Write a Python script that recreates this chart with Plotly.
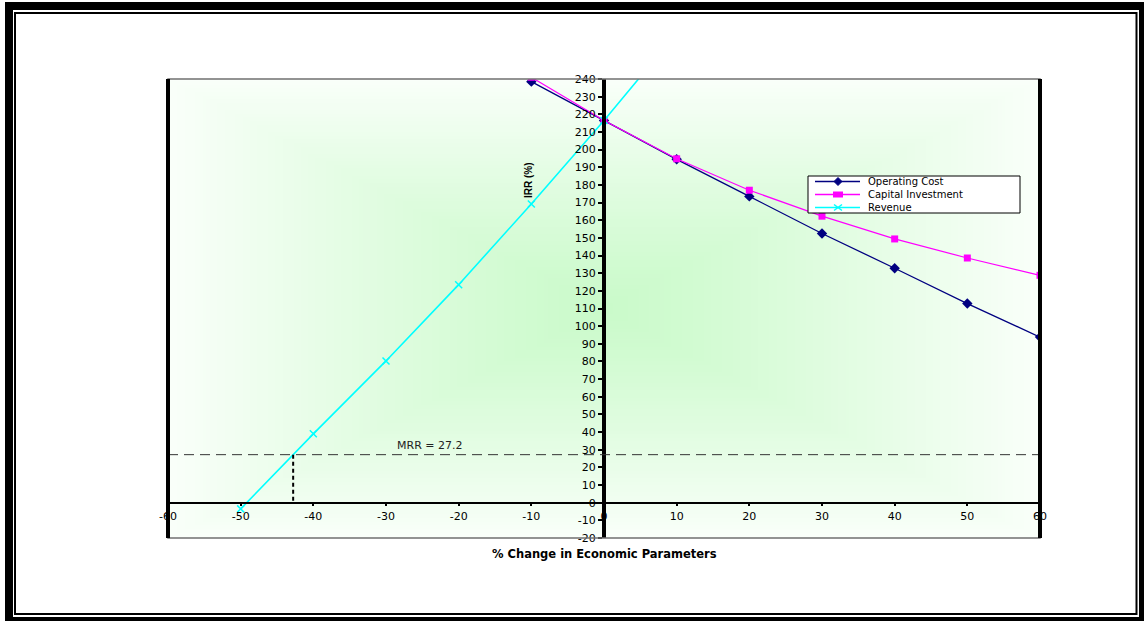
import base64
import struct
import zlib

import numpy as np
import plotly.graph_objects as go

# ---- data: IRR (%) vs % change in economic parameters ----
pct_cost = [-10, 0, 10, 20, 30, 40, 50, 60]
irr_operating_cost = [238.5, 216.5, 194.5, 173.5, 152.5, 132.8, 112.8, 93.8]
irr_capital_investment = [241.0, 216.5, 194.8, 177.0, 162.3, 149.4, 138.6, 128.8]

pct_revenue = [-50, -40, -30, -20, -10, 0, 10]
irr_revenue = [-3.5, 39.0, 80.3, 123.5, 169.2, 216.5, 266.0]

mrr = 27.2

x_ticks = list(range(-60, 61, 10))
y_ticks = list(range(-20, 241, 10))

series_names = ["Operating Cost", "Capital Investment", "Revenue"]
series_colors = ["#000080", "#FF00FF", "#00FFFF"]

W, H = 1144, 621
L, R, T, B = 168, 1040, 79, 538  # plot area in pixels


def px(x):
    return (x - L) / (R - L)


def py(y):
    return (B - y) / (B - T)


def gradient_png(w, h, center, edge):
    """Rectangular 'from centre' shading, encoded as a PNG data URI."""
    u = np.abs((np.arange(w) + 0.5) / w - 0.5) * 2
    v = np.abs((np.arange(h) + 0.5) / h - 0.5) * 2
    t = np.maximum(u[None, :], v[:, None]) ** 1.15
    c0 = np.array(center, float)
    c1 = np.array(edge, float)
    img = (c0 + (c1 - c0) * t[..., None]).round().astype(np.uint8)
    raw = b"".join(b"\x00" + img[r].tobytes() for r in range(h))

    def chunk(tag, data):
        body = tag + data
        return struct.pack(">I", len(data)) + body + struct.pack(">I", zlib.crc32(body) & 0xFFFFFFFF)

    png = (b"\x89PNG\r\n\x1a\n"
           + chunk(b"IHDR", struct.pack(">IIBBBBB", w, h, 8, 2, 0, 0, 0))
           + chunk(b"IDAT", zlib.compress(raw, 9))
           + chunk(b"IEND", b""))
    return "data:image/png;base64," + base64.b64encode(png).decode()


fig = go.Figure()

fig.add_trace(go.Scatter(
    x=pct_cost, y=irr_operating_cost, mode="lines+markers", name=series_names[0],
    line=dict(color=series_colors[0], width=1.3),
    marker=dict(symbol="diamond", size=8, color=series_colors[0]),
))
fig.add_trace(go.Scatter(
    x=pct_cost, y=irr_capital_investment, mode="lines+markers", name=series_names[1],
    line=dict(color=series_colors[1], width=1.2),
    marker=dict(symbol="square", size=7, color=series_colors[1]),
))
fig.add_trace(go.Scatter(
    x=pct_revenue, y=irr_revenue, mode="lines+markers", name=series_names[2],
    line=dict(color=series_colors[2], width=1.6),
    marker=dict(symbol="x-thin", size=7, line=dict(color=series_colors[2], width=1.5)),
))

shapes = []
annotations = []

# MRR reference line and the drop line from its crossing with the revenue curve
x_cross = float(np.interp(mrr, irr_revenue, pct_revenue))
shapes.append(dict(type="line", xref="paper", yref="y", x0=0, x1=1, y0=mrr, y1=mrr,
                   line=dict(color="#333333", width=1, dash="10px,6px"), layer="above"))
shapes.append(dict(type="line", xref="x", yref="y", x0=x_cross, x1=x_cross, y0=mrr, y1=0,
                   line=dict(color="black", width=2, dash="4px,3px"), layer="above"))
annotations.append(dict(x=-24, y=mrr, xref="x", yref="y", text="MRR = 27.2", showarrow=False,
                        yshift=9, font=dict(family="DejaVu Sans", size=11, color="#222222")))

# plot-area border: thin outline with heavy left/right edges
shapes.append(dict(type="rect", xref="paper", yref="paper", x0=0, x1=1, y0=0, y1=1,
                   line=dict(color="#707070", width=1.5), layer="above"))
for xe in (0, 1):
    shapes.append(dict(type="line", xref="paper", yref="paper", x0=xe, x1=xe, y0=0, y1=1,
                       line=dict(color="black", width=4), layer="above"))

# chart-area frame: heavy outer band plus thin inner rule
for (x0, x1, y0, y1) in [(5, 13, 2, 621), (5, 1144, 2, 10), (1139, 1144, 2, 621), (5, 1144, 617, 621)]:
    shapes.append(dict(type="rect", xref="paper", yref="paper",
                       x0=px(x0), x1=px(x1), y0=py(y1), y1=py(y0),
                       fillcolor="black", line=dict(width=0), layer="above"))
shapes.append(dict(type="rect", xref="paper", yref="paper",
                   x0=px(15), x1=px(1136.5), y0=py(614), y1=py(13),
                   line=dict(color="black", width=2), layer="above"))

# legend box with one multi-line label block
lg_x0, lg_x1, lg_y0, lg_y1 = 808, 1020, 176, 213
shapes.append(dict(type="rect", xref="paper", yref="paper",
                   x0=px(lg_x0), x1=px(lg_x1), y0=py(lg_y1), y1=py(lg_y0),
                   fillcolor="white", line=dict(color="black", width=1), layer="above"))
legend_font_size = 10
row_gap = 1.3 * legend_font_size
row_mid = (lg_y0 + lg_y1) / 2
rows = [row_mid - row_gap, row_mid, row_mid + row_gap]
annotations.append(dict(x=px(866), y=py(row_mid), xref="paper", yref="paper",
                        text="<br>".join(series_names), align="left",
                        showarrow=False, xanchor="left", yanchor="middle",
                        font=dict(family="DejaVu Sans", size=legend_font_size, color="black")))
kx0, kx1, kc = 815, 860, 838
for color, ry in zip(series_colors, rows):
    shapes.append(dict(type="line", xref="paper", yref="paper",
                       x0=px(kx0), x1=px(kx1), y0=py(ry), y1=py(ry),
                       line=dict(color=color, width=1.3), layer="above"))
# legend keys
d = 4
shapes.append(dict(type="path", xref="paper", yref="paper",
                   path=(f"M {px(kc - d)},{py(rows[0])} L {px(kc)},{py(rows[0] - d)} "
                         f"L {px(kc + d)},{py(rows[0])} L {px(kc)},{py(rows[0] + d)} Z"),
                   fillcolor=series_colors[0], line=dict(color=series_colors[0], width=1), layer="above"))
shapes.append(dict(type="rect", xref="paper", yref="paper",
                   x0=px(kc - 5), x1=px(kc + 5), y0=py(rows[1] + 3), y1=py(rows[1] - 3),
                   fillcolor=series_colors[1], line=dict(width=0), layer="above"))
for s in (-1, 1):
    shapes.append(dict(type="line", xref="paper", yref="paper",
                       x0=px(kc - 4), x1=px(kc + 4), y0=py(rows[2] - 3 * s), y1=py(rows[2] + 3 * s),
                       line=dict(color=series_colors[2], width=1.5), layer="above"))

# axis titles
annotations.append(dict(x=0.5, y=py(554), xref="paper", yref="paper",
                        text="<b>% Change in Economic Parameters</b>", showarrow=False,
                        yanchor="middle", font=dict(family="DejaVu Sans", size=11.5, color="black")))
annotations.append(dict(x=px(528), y=py(160), xref="paper", yref="paper",
                        text="<b>IRR (%)</b>", showarrow=False, textangle=-90,
                        font=dict(family="Liberation Sans", size=10, color="black")))

tick_font = dict(family="DejaVu Sans", size=11, color="black")

fig.update_layout(
    width=W, height=H,
    margin=dict(l=L, r=W - R, t=T, b=H - B, pad=0),
    paper_bgcolor="white",
    plot_bgcolor="rgba(0,0,0,0)",
    showlegend=False,
    xaxis=dict(
        range=[-60, 60], tickmode="array", tickvals=x_ticks, ticktext=[str(v) for v in x_ticks],
        anchor="free", position=(0 - (-20)) / 260,
        showline=True, linecolor="black", linewidth=1.5,
        ticks="outside", ticklen=3, tickwidth=2, tickcolor="black",
        showgrid=False, zeroline=False, tickfont=tick_font,
    ),
    yaxis=dict(
        range=[-20, 240], tickmode="array", tickvals=y_ticks, ticktext=[str(v) for v in y_ticks],
        anchor="free", position=0.5,
        showline=True, linecolor="black", linewidth=4,
        ticks="outside", ticklen=4, tickwidth=1.5, tickcolor="black",
        showgrid=False, zeroline=False, tickfont=tick_font,
    ),
    images=[dict(
        source=gradient_png(240, 126, (202, 250, 202), (250, 255, 250)),
        xref="paper", yref="paper", x=0, y=1, sizex=1, sizey=1,
        sizing="stretch", xanchor="left", yanchor="top", layer="below",
    )],
    shapes=shapes,
    annotations=annotations,
)

fig.write_html("out.html")
